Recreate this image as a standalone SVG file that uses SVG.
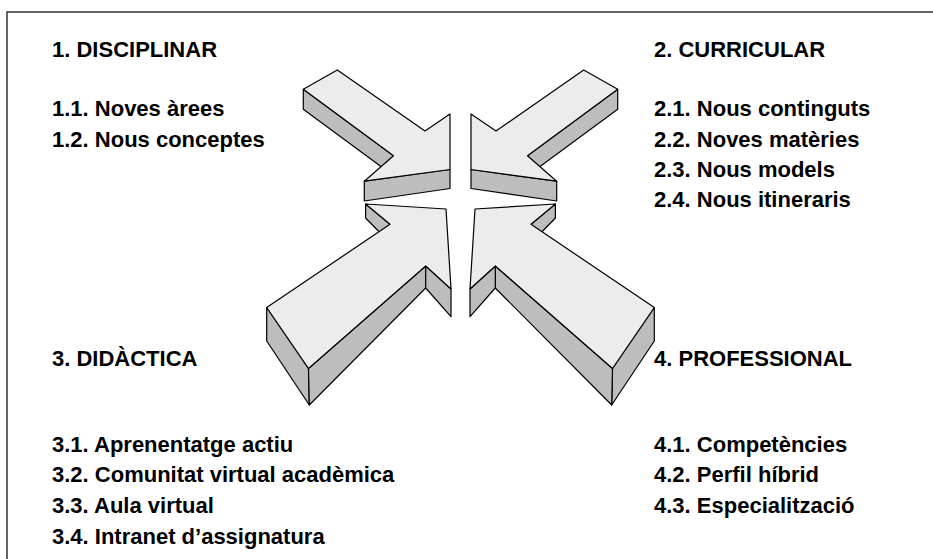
<svg xmlns="http://www.w3.org/2000/svg" width="933" height="559" viewBox="0 0 933 559">
<style>
.t{font-family:"Liberation Sans",Arial,sans-serif;font-weight:bold;font-size:22px;fill:#000}
.top{fill:#ececec;stroke:#000;stroke-width:1.2;stroke-linejoin:round}
.side{fill:#bdbdbd;stroke:#000;stroke-width:1.2;stroke-linejoin:round}
</style>
<rect width="933" height="559" fill="#fff"/>
<path d="M7 560 V12 H934" fill="none" stroke="#333" stroke-width="1.5"/>
<defs>
<g id="arrowTop">
<polygon class="side" points="303.3,89.3 393.5,155.8 393.5,175.8 303.3,109.3"/>
<polygon class="side" points="364.3,181.2 450,169.5 450,188.5 364.3,201"/>
<polygon class="top" points="303.3,89.3 337.3,70 425,131 450,114 450,169.5 364.3,181.2 393.5,155.8"/>
</g>
<g id="arrowBottom">
<polygon class="side" points="365.6,204 390,224.3 390,243 365.6,218"/>
<polygon class="side" points="266.7,307.5 308.5,368.5 309.3,405 266.7,341"/>
<polygon class="side" points="308.5,368.5 425.7,266 425.7,288 309.3,405"/>
<polygon class="side" points="425.7,266 451,289 451,316.7 425.7,288"/>
<polygon class="top" points="365.6,204 446,209 451,289 425.7,266 308.5,368.5 266.7,307.5 390,224.3"/>
</g>
</defs>
<g id="arrow-1"><use href="#arrowTop"/></g>
<g id="arrow-2"><use href="#arrowTop" transform="translate(921,0) scale(-1,1)"/></g>
<g id="arrow-3"><use href="#arrowBottom"/></g>
<g id="arrow-4"><use href="#arrowBottom" transform="translate(921,0) scale(-1,1)"/></g>
<g id="n1">
<text class="t" x="52" y="57">1. DISCIPLINAR</text>
<text class="t" x="52" y="116">1.1. Noves àrees</text>
<text class="t" x="52" y="147">1.2. Nous conceptes</text>
</g>
<g id="n2">
<text class="t" x="654" y="57">2. CURRICULAR</text>
<text class="t" x="654" y="116">2.1. Nous continguts</text>
<text class="t" x="654" y="147">2.2. Noves matèries</text>
<text class="t" x="654" y="177">2.3. Nous models</text>
<text class="t" x="654" y="207">2.4. Nous itineraris</text>
</g>
<g id="n3">
<text class="t" x="52" y="366">3. DIDÀCTICA</text>
<text class="t" x="52" y="452">3.1. Aprenentatge actiu</text>
<text class="t" x="52" y="482">3.2. Comunitat virtual acadèmica</text>
<text class="t" x="52" y="513">3.3. Aula virtual</text>
<text class="t" x="52" y="544">3.4. Intranet d’assignatura</text>
</g>
<g id="n4">
<text class="t" x="654" y="366">4. PROFESSIONAL</text>
<text class="t" x="654" y="452">4.1. Competències</text>
<text class="t" x="654" y="482">4.2. Perfil híbrid</text>
<text class="t" x="654" y="513">4.3. Especialització</text>
</g>
</svg>
